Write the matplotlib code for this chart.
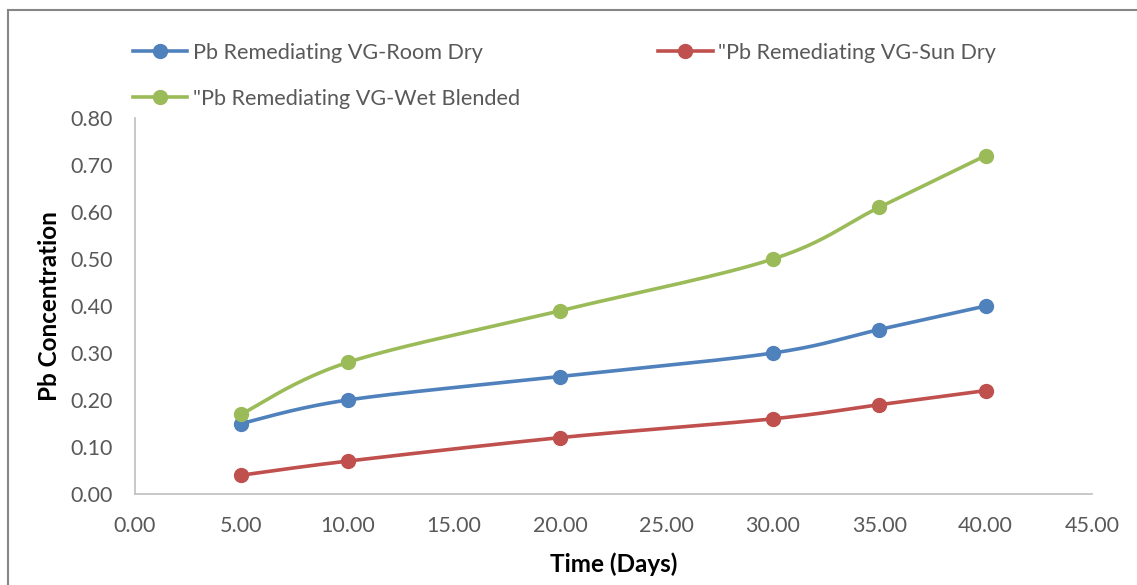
import matplotlib
matplotlib.use('Agg')
import matplotlib.pyplot as plt
from matplotlib.lines import Line2D
from matplotlib.patches import Rectangle
import numpy as np

days = [5, 10, 20, 30, 35, 40]
room_dry = [0.15, 0.20, 0.25, 0.30, 0.35, 0.40]
sun_dry = [0.04, 0.07, 0.12, 0.16, 0.19, 0.22]
wet_blended = [0.17, 0.28, 0.39, 0.50, 0.61, 0.72]

series_names = ['Pb Remediating VG-Room Dry',
                '"Pb Remediating VG-Sun Dry',
                '"Pb Remediating VG-Wet Blended']
series_colors = ['#4F81BD', '#C0504D', '#9BBB59']

x_ticks = [0, 5, 10, 15, 20, 25, 30, 35, 40, 45]
y_ticks = [0.0, 0.1, 0.2, 0.3, 0.4, 0.5, 0.6, 0.7, 0.8]


def smooth(x, y, n=40):
    # excel style smoothed line (catmull-rom as bezier segments)
    pts = np.column_stack([x, y]).astype(float)
    out = [pts[0]]
    t = np.linspace(0, 1, n)[1:, None]
    for i in range(len(pts) - 1):
        p0 = pts[max(i - 1, 0)]
        p1 = pts[i]
        p2 = pts[i + 1]
        p3 = pts[min(i + 2, len(pts) - 1)]
        c1 = p1 + (p2 - p0) / 6
        c2 = p2 - (p3 - p1) / 6
        seg = ((1 - t) ** 3 * p1 + 3 * (1 - t) ** 2 * t * c1
               + 3 * (1 - t) * t ** 2 * c2 + t ** 3 * p2)
        out.extend(seg)
    out = np.array(out)
    return out[:, 0], out[:, 1]


plt.rcParams['font.family'] = ['Lato', 'DejaVu Sans']

fig = plt.figure(figsize=(11.37, 5.85), dpi=100)
ax = fig.add_axes([135 / 1137, 1 - 494 / 585, (1092 - 135) / 1137, (494 - 118) / 585])

handles = []
for vals, name, c in zip([room_dry, sun_dry, wet_blended], series_names, series_colors):
    sx, sy = smooth(days, vals)
    ax.plot(sx, sy, color=c, lw=2.6, solid_capstyle='round', clip_on=False)
    ax.plot(days, vals, 'o', color=c, ms=10, clip_on=False)
    handles.append(Line2D([], [], color=c, lw=2.6, marker='o', ms=10))

ax.set_xlim(0, 45)
ax.set_ylim(0, 0.8)
ax.set_xticks(x_ticks)
ax.set_yticks(y_ticks)
ax.set_xticklabels(['{:.2f}'.format(v) for v in x_ticks])
ax.set_yticklabels(['{:.2f}'.format(v) for v in y_ticks])
ax.tick_params(length=0, labelsize=15.5, labelcolor='#595959')
ax.tick_params(axis='x', pad=16)
ax.tick_params(axis='y', pad=16)

for s in ['top', 'right']:
    ax.spines[s].set_visible(False)
for s in ['left', 'bottom']:
    ax.spines[s].set_color('#BFBFBF')
    ax.spines[s].set_linewidth(1.2)

ax.set_xlabel('Time (Days)', fontsize=17.5, fontweight='bold', labelpad=12)
ax.set_ylabel('Pb Concentration', fontsize=17.5, fontweight='bold', labelpad=7)

# legend: two columns, room dry + wet blended on the left, sun dry on the right
order = [0, 2, 1]
leg = fig.legend([handles[i] for i in order], [series_names[i] for i in order],
                 ncol=2, loc='upper left', bbox_to_anchor=(133 / 1137, 1 - 43 / 585),
                 frameon=False, fontsize=15.6, handlelength=2.5, handletextpad=0.25,
                 columnspacing=6.4, labelspacing=1.2, borderpad=0, borderaxespad=0)
for txt in leg.get_texts():
    txt.set_color('#595959')

# chart area border
fig.add_artist(Rectangle((8 / 1137, -0.1), 2, 1.1 - 10 / 585, transform=fig.transFigure,
                         fill=False, edgecolor='#868686', lw=1.5))

fig.savefig('out.png', dpi=100)
